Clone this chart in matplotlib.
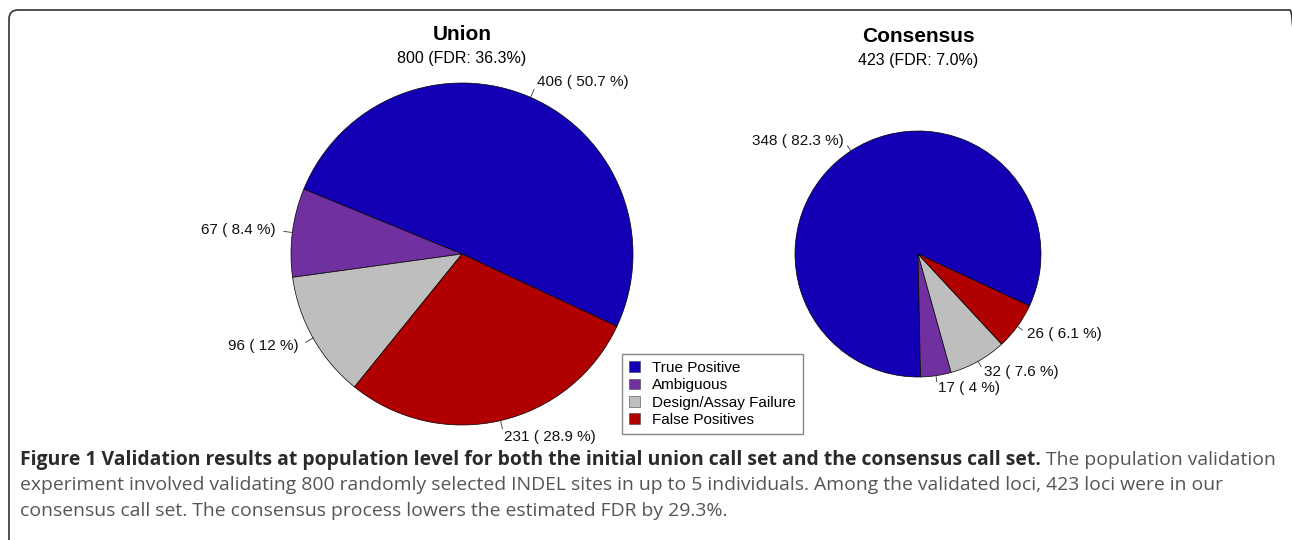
import numpy as np
import matplotlib
matplotlib.use('Agg')
import matplotlib.pyplot as plt
from matplotlib.patches import FancyBboxPatch, Patch
from matplotlib import font_manager

# data
categories = ['True Positive', 'Ambiguous', 'Design/Assay Failure', 'False Positives']
colors = ['#1400b4', '#7030a0', '#bebebe', '#b00000']

union_counts = [406, 67, 96, 231]
union_pct = ['50.7', '8.4', '12', '28.9']
union_title = 'Union'
union_sub = '800 (FDR: 36.3%)'

cons_counts = [348, 17, 32, 26]
cons_pct = ['82.3', '4', '7.6', '6.1']
cons_title = 'Consensus'
cons_sub = '423 (FDR: 7.0%)'

caption_bold = ('Figure 1 Validation results at population level for both the '
                'initial union call set and the consensus call set.')
caption_lines = [' The population validation',
                 'experiment involved validating 800 randomly selected INDEL sites in up to 5 individuals. '
                 'Among the validated loci, 423 loci were in our',
                 'consensus call set. The consensus process lowers the estimated FDR by 29.3%.']

plt.rcParams['font.family'] = ['Liberation Sans', 'DejaVu Sans']

names = {f.name for f in font_manager.fontManager.ttflist}
cap_font = 'Liberation Sans Narrow' if 'Liberation Sans Narrow' in names else 'Open Sans'

W, H = 1292, 540
fig = plt.figure(figsize=(W / 100, H / 100), dpi=100)
ax = fig.add_axes([0, 0, 1, 1])


def draw_pie(counts, pct, cx, cy, r, title, sub, ty):
    wedges, _ = ax.pie(counts, colors=colors, center=(cx, H - cy), radius=r,
                       startangle=-25, counterclock=True,
                       wedgeprops=dict(edgecolor='black', linewidth=0.5))
    for w, n, p in zip(wedges, counts, pct):
        a = np.deg2rad((w.theta1 + w.theta2) / 2)
        c, s = np.cos(a), np.sin(a)
        ax.plot([cx + r * c, cx + 1.05 * r * c], [H - cy + r * s, H - cy + 1.05 * r * s],
                color='#333333', lw=0.6)
        ax.text(cx + 1.1 * r * c, H - cy + 1.1 * r * s, f'{n} ( {p} %)',
                ha='left' if c > 0 else 'right', va='center', fontsize=11, color='#111111')
    ax.text(cx, H - ty, title, ha='center', va='center', fontsize=15, fontweight='bold')
    ax.text(cx, H - ty - 24, sub, ha='center', va='center', fontsize=11.5)
    return wedges


draw_pie(union_counts, union_pct, 462, 254, 171, union_title, union_sub, 35)
draw_pie(cons_counts, cons_pct, 918, 254, 123, cons_title, cons_sub, 36)

ax.set_xlim(0, W)
ax.set_ylim(0, H)
ax.set_aspect('auto')
ax.axis('off')

handles = [Patch(facecolor=col, edgecolor='#444444', lw=0.4) for col in colors]
fig.legend(handles, categories, loc='upper left', bbox_to_anchor=(622 / W, 1 - 354 / H),
           fancybox=False, edgecolor='#888888', framealpha=1, fontsize=11,
           handlelength=0.7, handleheight=0.7, handletextpad=0.8, labelspacing=0.22,
           borderpad=0.45, borderaxespad=0)

# frame around the figure
frame = FancyBboxPatch((9, -30), 1290, H - 10 + 30, boxstyle='round,pad=0,rounding_size=9',
                       fill=False, edgecolor='#333333', lw=1.2, clip_on=False)
ax.add_patch(frame)

# caption
fig.canvas.draw()
renderer = fig.canvas.get_renderer()
size = 12
y0 = 460
t1 = ax.text(20, H - y0, caption_bold, fontsize=size, fontweight='bold', family=cap_font,
             color='#2a2a2a', va='center')
t2 = ax.text(0, H - y0, caption_lines[0], fontsize=size, family=cap_font, color='#555555', va='center')
w1 = t1.get_window_extent(renderer).width
w2 = t2.get_window_extent(renderer).width
size *= (1270 - 20) / (w1 + w2)
t1.set_fontsize(size)
t2.set_fontsize(size)
w1 = t1.get_window_extent(renderer).width
t2.set_x(20 + w1)
for i, line in enumerate(caption_lines[1:]):
    ax.text(20, H - y0 - 25.5 * (i + 1), line, fontsize=size, family=cap_font,
            color='#555555', va='center')

fig.savefig('out.png', dpi=100)
